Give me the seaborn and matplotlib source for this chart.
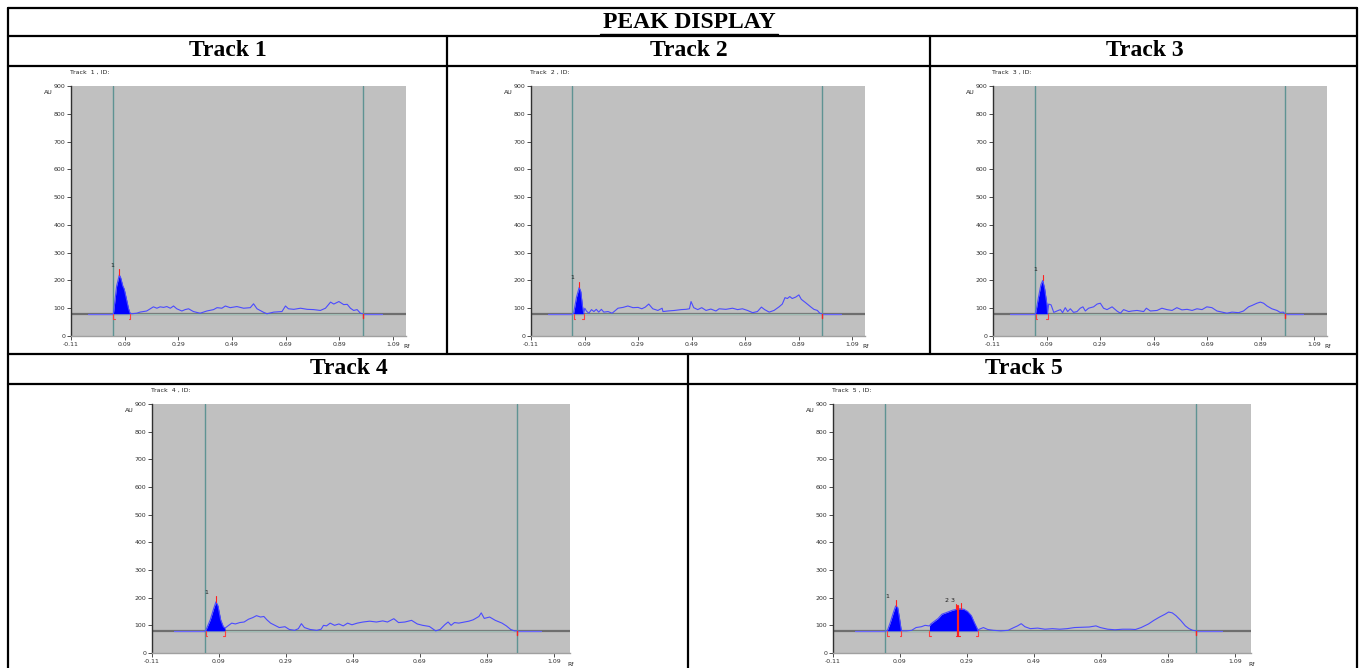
import numpy as np
import seaborn as sns
import matplotlib.pyplot as plt
from matplotlib.lines import Line2D

W, H = 1359, 668

title = "PEAK DISPLAY"
track_names = ["Track 1", "Track 2", "Track 3", "Track 4", "Track 5"]
x_ticks = [-0.11, 0.09, 0.29, 0.49, 0.69, 0.89, 1.09]
x_tick_labels = ["-0.11", "0.09", "0.29", "0.49", "0.69", "0.89", "1.09"]
y_ticks = [0, 100, 200, 300, 400, 500, 600, 700, 800, 900]

baseline_au = 80
scan_start, scan_end = -0.045, 1.05

# front / end lines of each track (Rf)
track_limits = [(0.046, 0.977), (0.045, 0.976), (0.046, 0.980), (0.047, 0.979), (0.046, 0.975)]

track1_rf = [0.046, 0.048, 0.060, 0.070, 0.075, 0.083, 0.088, 0.095, 0.104, 0.110, 0.116, 0.135, 0.147, 0.172,
             0.197, 0.210, 0.222, 0.235, 0.247, 0.260, 0.272, 0.284, 0.303, 0.315, 0.328, 0.346, 0.371, 0.396,
             0.421, 0.434, 0.452, 0.465, 0.483, 0.508, 0.533, 0.558, 0.570, 0.583, 0.608, 0.620, 0.645, 0.676,
             0.689, 0.700, 0.720, 0.745, 0.770, 0.794, 0.819, 0.838, 0.857, 0.869, 0.888, 0.906, 0.919, 0.931,
             0.943, 0.956, 0.968, 0.976]
track1_au = [80, 80, 180, 220, 210, 180, 170, 140, 100, 82, 80, 82, 86, 90, 105, 100, 105, 103, 106, 100, 108, 98,
             90, 95, 98, 88, 82, 90, 95, 102, 100, 108, 102, 106, 100, 102, 116, 98, 85, 80, 86, 88, 108, 98, 96,
             100, 96, 95, 92, 100, 122, 115, 124, 113, 114, 100, 92, 95, 82, 80]

track2_rf = [0.045, 0.049, 0.060, 0.070, 0.076, 0.082, 0.087, 0.091, 0.097, 0.106, 0.116, 0.125, 0.134, 0.143,
             0.153, 0.162, 0.178, 0.193, 0.203, 0.215, 0.234, 0.252, 0.271, 0.290, 0.304, 0.317, 0.330, 0.345,
             0.364, 0.380, 0.383, 0.401, 0.426, 0.451, 0.469, 0.482, 0.488, 0.498, 0.513, 0.528, 0.544, 0.562,
             0.581, 0.593, 0.618, 0.643, 0.662, 0.680, 0.699, 0.718, 0.736, 0.751, 0.763, 0.780, 0.798, 0.817,
             0.829, 0.839, 0.848, 0.857, 0.866, 0.879, 0.891, 0.900, 0.916, 0.935, 0.947, 0.960, 0.969, 0.976]
track2_au = [80, 80, 140, 175, 160, 110, 82, 100, 90, 82, 95, 88, 96, 86, 96, 86, 88, 82, 90, 100, 103, 108, 102,
             103, 98, 104, 115, 98, 92, 100, 88, 90, 92, 95, 96, 98, 124, 102, 95, 102, 92, 97, 90, 98, 96, 100,
             95, 98, 92, 84, 88, 104, 95, 86, 92, 105, 115, 138, 135, 142, 135, 140, 148, 132, 120, 105, 96, 92,
             82, 80]

track3_rf = [0.046, 0.049, 0.060, 0.069, 0.076, 0.083, 0.092, 0.094, 0.098, 0.107, 0.117, 0.129, 0.142, 0.150,
             0.160, 0.169, 0.179, 0.191, 0.204, 0.216, 0.226, 0.235, 0.247, 0.266, 0.279, 0.291, 0.303, 0.316,
             0.335, 0.353, 0.366, 0.378, 0.397, 0.409, 0.428, 0.453, 0.463, 0.478, 0.503, 0.521, 0.540, 0.559,
             0.577, 0.596, 0.615, 0.634, 0.652, 0.671, 0.689, 0.708, 0.727, 0.746, 0.764, 0.783, 0.808, 0.826,
             0.845, 0.858, 0.876, 0.889, 0.901, 0.914, 0.932, 0.951, 0.963, 0.975, 0.980]
track3_au = [80, 80, 140, 185, 200, 170, 110, 82, 115, 112, 85, 90, 95, 84, 102, 88, 98, 85, 88, 100, 105, 90, 100,
             105, 115, 118, 100, 95, 105, 90, 82, 95, 88, 90, 92, 88, 100, 90, 92, 100, 95, 92, 102, 94, 96, 92,
             98, 95, 105, 102, 90, 86, 82, 86, 84, 90, 105, 110, 118, 122, 118, 108, 98, 92, 85, 86, 80]

track4_rf = [0.047, 0.050, 0.064, 0.074, 0.081, 0.087, 0.095, 0.103, 0.108, 0.119, 0.128, 0.139, 0.152, 0.165,
             0.178, 0.191, 0.202, 0.214, 0.224, 0.233, 0.244, 0.257, 0.270, 0.287, 0.300, 0.316, 0.327, 0.336,
             0.345, 0.362, 0.382, 0.395, 0.402, 0.411, 0.422, 0.435, 0.448, 0.461, 0.474, 0.487, 0.503, 0.520,
             0.540, 0.560, 0.579, 0.593, 0.612, 0.626, 0.645, 0.665, 0.682, 0.698, 0.718, 0.737, 0.750, 0.764,
             0.774, 0.783, 0.793, 0.806, 0.823, 0.836, 0.849, 0.866, 0.873, 0.882, 0.898, 0.915, 0.935, 0.948,
             0.961, 0.972, 0.979]
track4_au = [80, 80, 120, 160, 185, 170, 120, 95, 90, 100, 108, 105, 110, 112, 122, 128, 135, 130, 132, 120, 108,
             100, 92, 95, 85, 82, 88, 106, 92, 85, 82, 86, 100, 98, 108, 100, 105, 98, 108, 102, 108, 112, 115,
             112, 116, 112, 124, 110, 112, 118, 105, 100, 96, 80, 85, 102, 112, 100, 110, 108, 112, 115, 120, 132,
             145, 125, 130, 118, 108, 98, 85, 80, 80]

track5_rf = [0.046, 0.052, 0.061, 0.070, 0.077, 0.083, 0.088, 0.094, 0.110, 0.125, 0.138, 0.154, 0.165, 0.176,
             0.178, 0.182, 0.193, 0.204, 0.215, 0.226, 0.237, 0.248, 0.259, 0.263, 0.270, 0.281, 0.292, 0.303,
             0.312, 0.320, 0.322, 0.325, 0.339, 0.352, 0.369, 0.391, 0.413, 0.430, 0.441, 0.452, 0.463, 0.479,
             0.501, 0.523, 0.545, 0.567, 0.589, 0.611, 0.633, 0.655, 0.675, 0.688, 0.710, 0.732, 0.755, 0.777,
             0.793, 0.810, 0.832, 0.848, 0.865, 0.881, 0.892, 0.903, 0.914, 0.928, 0.942, 0.953, 0.964, 0.975]
track5_au = [80, 80, 110, 145, 170, 165, 130, 80, 80, 82, 92, 95, 100, 98, 98, 105, 115, 125, 140, 145, 150, 155,
             158, 159, 160, 158, 150, 135, 110, 90, 82, 85, 92, 85, 82, 80, 82, 92, 98, 106, 95, 88, 90, 86, 88,
             86, 88, 92, 93, 94, 98, 92, 86, 84, 86, 86, 85, 92, 105, 118, 130, 140, 148, 145, 135, 118, 98, 88,
             82, 80]

# integrated peaks: (start, apex, end) in Rf
track1_peaks = [(0.048, 0.070, 0.110)]
track2_peaks = [(0.049, 0.070, 0.087)]
track3_peaks = [(0.049, 0.076, 0.094)]
track4_peaks = [(0.050, 0.081, 0.108)]
track5_peaks = [(0.052, 0.077, 0.094), (0.178, 0.257, 0.263), (0.263, 0.273, 0.322)]

track1_labels = [("1", 0.045, 255)]
track2_labels = [("1", 0.045, 210)]
track3_labels = [("1", 0.049, 240)]
track4_labels = [("1", 0.052, 220)]
track5_labels = [("1", 0.053, 205), ("2 3", 0.240, 190)]

tracks = [
    (track1_rf, track1_au, track1_peaks, track1_labels),
    (track2_rf, track2_au, track2_peaks, track2_labels),
    (track3_rf, track3_au, track3_peaks, track3_labels),
    (track4_rf, track4_au, track4_peaks, track4_labels),
    (track5_rf, track5_au, track5_peaks, track5_labels),
]

# axes boxes in pixels: left, top, right, bottom
axes_px = [(71, 86, 406, 336), (531, 86, 865, 336), (993, 86, 1327, 336),
           (152, 404, 570, 653), (833, 404, 1251, 653)]

sns.set_style("white")
plt.rcParams['font.family'] = ['DejaVu Sans']

fig = plt.figure(figsize=(W / 100, H / 100), dpi=100)


def fx(px):
    return px / W


def fy(py):
    return 1 - py / H


def hline(x0, x1, y, lw=1.6):
    fig.add_artist(Line2D([fx(x0), fx(x1)], [fy(y), fy(y)], color="black", lw=lw))


def vline(x, y0, y1, lw=1.6):
    fig.add_artist(Line2D([fx(x), fx(x)], [fy(y0), fy(y1)], color="black", lw=lw))


# table grid
L, R = 8, 1357
for y in [8, 36, 66, 354, 384]:
    hline(L, R, y)
vline(L, 8, 668)
vline(R, 8, 668)
vline(447, 36, 354)
vline(930, 36, 354)
vline(688, 354, 668)

serif = ['Liberation Serif', 'DejaVu Serif']
fig.text(fx(689), fy(22), title, ha="center", va="center", fontsize=17, fontweight="bold",
         family=serif, color="black")
hline(600, 778, 34, lw=1.0)
header_pos = [(228, 51), (689, 51), (1145, 51), (349, 369), (1024, 369)]
for name, (hx, hy) in zip(track_names, header_pos):
    fig.text(fx(hx), fy(hy), name, ha="center", va="center", fontsize=17, fontweight="bold",
             family=serif, color="black")

for i, ((rf, au, peaks, labels), (l, tp, r, b)) in enumerate(zip(tracks, axes_px)):
    ax = fig.add_axes([fx(l), fy(b), fx(r) - fx(l), (b - tp) / H])
    ax.set_facecolor("#c0c0c0")
    ax.set_xlim(-0.11, 1.138)
    ax.set_ylim(0, 900)
    rf = np.asarray(rf)
    au = np.asarray(au)
    start, end = track_limits[i]

    # background baseline
    ax.plot([-0.11, 1.138], [baseline_au, baseline_au], color="#6e6e6e", lw=1.6, zorder=1)
    ax.plot([start, end], [baseline_au, baseline_au], color="#9fbcb4", lw=1.0, zorder=2)
    ax.plot([scan_start, start], [baseline_au, baseline_au], color="#6a6aff", lw=0.9, zorder=3)
    ax.plot([end, scan_end], [baseline_au, baseline_au], color="#6a6aff", lw=0.9, zorder=3)

    # peaks
    for k, (ps, pa, pe) in enumerate(peaks):
        m = (rf >= ps) & (rf <= pe)
        ax.fill_between(rf[m], baseline_au, au[m], color="#0000ff", lw=0, zorder=4)
        h = np.interp(pa, rf, au)
        ax.plot([pa, pa], [h, h + 20], color="#ff2020", lw=0.8, zorder=6)
        shared_start = k > 0 and abs(peaks[k - 1][2] - ps) < 1e-9
        if shared_start:
            hs = np.interp(ps, rf, au)
            ax.plot([ps, ps], [62, hs + 10], color="#ff2020", lw=1.6, zorder=6)
            ax.plot([ps - 0.006, ps + 0.006], [62, 62], color="#ff2020", lw=0.8, zorder=6)
        else:
            ax.plot([ps, ps, ps + 0.005], [baseline_au, 62, 62], color="#ff4040", lw=0.8, zorder=6)
        shared_end = k < len(peaks) - 1 and abs(peaks[k + 1][0] - pe) < 1e-9
        if not shared_end:
            ax.plot([pe, pe, pe - 0.005], [baseline_au, 62, 62], color="#ff4040", lw=0.8, zorder=6)

    sns.lineplot(x=rf, y=au, ax=ax, color="#4b4bff", lw=0.8, estimator=None, sort=False, zorder=5)
    ax.plot([end, end], [baseline_au, 66], color="#ff2020", lw=1.0, zorder=6)

    for txt, lx, ly in labels:
        ax.text(lx, ly, txt, fontsize=4.5, ha="center", va="center", color="#202020", zorder=7)

    ax.axvline(start, color="#5f9393", lw=1.0, zorder=3)
    ax.axvline(end, color="#5f9393", lw=1.0, zorder=3)

    ax.set_xticks(x_ticks)
    ax.set_xticklabels(x_tick_labels)
    ax.set_yticks(y_ticks)
    ax.tick_params(axis="both", labelsize=4.5, length=3, width=0.6, pad=1, colors="#303030",
                   direction="out", bottom=True, left=True)
    for side in ["top", "right"]:
        ax.spines[side].set_visible(False)
    ax.spines["left"].set_color("#303030")
    ax.spines["bottom"].set_color("#a0a0a0")
    ax.spines["left"].set_linewidth(1.0)
    ax.spines["bottom"].set_linewidth(1.0)

    fig.text(fx(l - 1), fy(tp - 14), f"Track  {i + 1} , ID:", fontsize=4.5, ha="left", va="center",
             color="#202020")
    fig.text(fx(l - 27), fy(tp + 6), "AU", fontsize=4.5, ha="left", va="center", color="#202020")
    fig.text(fx(r - 3), fy(b + 11), "Rf", fontsize=4.5, ha="left", va="center", color="#202020")

fig.savefig("out.png", dpi=100)
